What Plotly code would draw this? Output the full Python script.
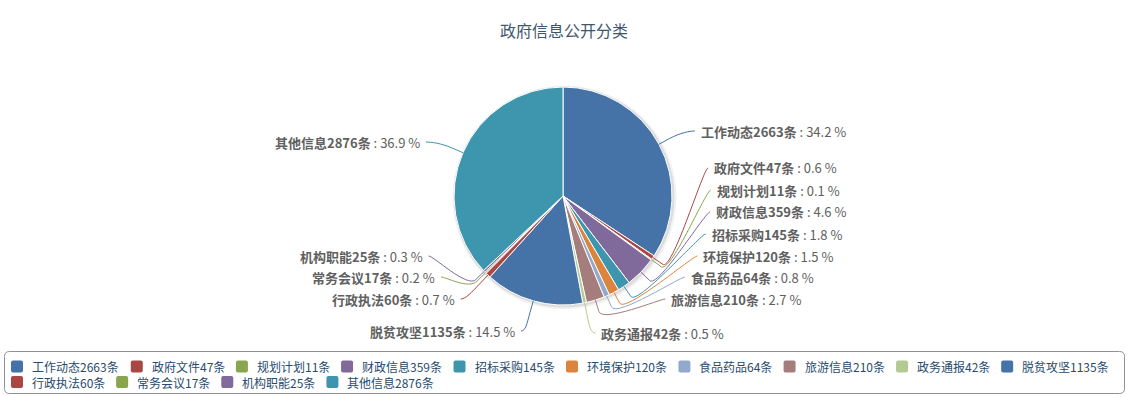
import math
import plotly.graph_objects as go

# ---------------- data ----------------
categories = ["工作动态", "政府文件", "规划计划", "财政信息", "招标采购", "环境保护", "食品药品",
              "旅游信息", "政务通报", "脱贫攻坚", "行政执法", "常务会议", "机构职能", "其他信息"]
counts = [2663, 47, 11, 359, 145, 120, 64, 210, 42, 1135, 60, 17, 25, 2876]
title_text = "政府信息公开分类"

# ---------------- layout / style ----------------
W, H = 1129, 397
CX, CY, R = 563, 196, 109              # pie centre / radius in pixels
LABEL_RING = R + 30                     # Highcharts-like label ring
label_y = [131, 168, 190, 212, 234, 256, 277, 299, 333, 331, 299, 277, 256, 142]
palette = ['#4572A7', '#AA4643', '#89A54E', '#80699B', '#3D96AE',
           '#DB843D', '#92A8CD', '#A47D7C', '#B5CA92']
FONT = "Noto Sans CJK SC"
colors = [palette[i % len(palette)] for i in range(len(counts))]
names = [f"{c}{n}条" for c, n in zip(categories, counts)]
total = sum(counts)
pct = [(c * 1000 // total) / 10 for c in counts]   # truncated to one decimal


def px(x):
    return x / W


def py(y):
    return 1 - y / H


fig = go.Figure()

# soft shadow behind the pie
for extra, dx, dy, alpha in [(3, 1.5, 1.5, 0.05), (1.5, 1, 1, 0.09)]:
    rr = R + extra
    fig.add_trace(go.Pie(
        values=[total], labels=["shadow"], sort=False, textinfo="none",
        hoverinfo="skip", showlegend=False,
        marker=dict(colors=[f"rgba(0,0,0,{alpha})"], line=dict(width=0)),
        domain=dict(x=[px(CX + dx - rr), px(CX + dx + rr)],
                    y=[py(CY + dy + rr), py(CY + dy - rr)]),
    ))

fig.add_trace(go.Pie(
    values=counts, labels=names, sort=False, direction="clockwise", rotation=0,
    textinfo="none", hoverinfo="label+percent", showlegend=False,
    marker=dict(colors=colors, line=dict(color="white", width=1)),
    domain=dict(x=[px(CX - R), px(CX + R)], y=[py(CY + R), py(CY - R)]),
))

shapes = []
annotations = []

# data labels + connectors
cum = 0
for i, c in enumerate(counts):
    mid = (cum + c / 2) / total * 2 * math.pi
    cum += c
    sx, sy = math.sin(mid), -math.cos(mid)
    right = mid < math.pi
    ly = label_y[i]
    h = math.sqrt(max(LABEL_RING ** 2 - (ly - CY) ** 2, 0))
    if right:
        lx = CX + h + 13
        p0, c1 = lx - 4, lx - 9
    else:
        lx = CX - h - 13
        p0, c1 = lx + 4, lx + 9
    ex, ey = CX + R * sx, CY + R * sy
    bx, by = CX + (R + 12) * sx, CY + (R + 12) * sy
    c2x, c2y = 2 * bx - ex, 2 * by - ey
    path = (f"M {px(p0)},{py(ly)} C {px(c1)},{py(ly)} {px(c2x)},{py(c2y)} "
            f"{px(bx)},{py(by)} L {px(ex)},{py(ey)}")
    shapes.append(dict(type="path", xref="paper", yref="paper", path=path,
                       line=dict(color=colors[i], width=1), layer="above"))
    annotations.append(dict(
        x=px(lx), y=py(ly), xref="paper", yref="paper", showarrow=False,
        xanchor="left" if right else "right", yanchor="middle",
        text=f"<b>{names[i]}</b> : {pct[i]:.1f} %",
        font=dict(family=FONT, size=13, color="#606060"),
    ))

# legend (Highcharts style, drawn manually)
LEG_L, LEG_R, LEG_T, LEG_B, RAD = 4.5, 1124.5, 351.5, 393.5, 5
shapes.append(dict(
    type="path", xref="paper", yref="paper",
    path=(f"M {px(LEG_L + RAD)},{py(LEG_T)} L {px(LEG_R - RAD)},{py(LEG_T)} "
          f"Q {px(LEG_R)},{py(LEG_T)} {px(LEG_R)},{py(LEG_T + RAD)} "
          f"L {px(LEG_R)},{py(LEG_B - RAD)} Q {px(LEG_R)},{py(LEG_B)} {px(LEG_R - RAD)},{py(LEG_B)} "
          f"L {px(LEG_L + RAD)},{py(LEG_B)} Q {px(LEG_L)},{py(LEG_B)} {px(LEG_L)},{py(LEG_B - RAD)} "
          f"L {px(LEG_L)},{py(LEG_T + RAD)} Q {px(LEG_L)},{py(LEG_T)} {px(LEG_L + RAD)},{py(LEG_T)} Z"),
    line=dict(color="#909090", width=1), fillcolor="rgba(0,0,0,0)"))


def est_width(s, size=12):
    return sum(size if ord(ch) > 0x2E80 else size * 0.61 for ch in s)


rows_y = [366.5, 382]
row = 0
x = 11
for i, nm in enumerate(names):
    w = est_width(nm)
    if x + 20 + w > 1120:
        row += 1
        x = 11
    yc = rows_y[row]
    s = 6
    r2 = 2
    x0, x1, y0, y1 = x, x + 12, yc - s, yc + s
    shapes.append(dict(
        type="path", xref="paper", yref="paper",
        path=(f"M {px(x0 + r2)},{py(y0)} L {px(x1 - r2)},{py(y0)} Q {px(x1)},{py(y0)} {px(x1)},{py(y0 + r2)} "
              f"L {px(x1)},{py(y1 - r2)} Q {px(x1)},{py(y1)} {px(x1 - r2)},{py(y1)} "
              f"L {px(x0 + r2)},{py(y1)} Q {px(x0)},{py(y1)} {px(x0)},{py(y1 - r2)} "
              f"L {px(x0)},{py(y0 + r2)} Q {px(x0)},{py(y0)} {px(x0 + r2)},{py(y0)} Z"),
        line=dict(width=0), fillcolor=colors[i]))
    annotations.append(dict(
        x=px(x + 19), y=py(yc), xref="paper", yref="paper", showarrow=False,
        xanchor="left", yanchor="middle", text=nm,
        font=dict(family=FONT, size=12, color="#274B6D")))
    x = x + 20 + w + 10.5

# title
annotations.append(dict(
    x=px(564), y=py(30), xref="paper", yref="paper", showarrow=False,
    xanchor="center", yanchor="middle", text=title_text,
    font=dict(family=FONT, size=16, color="#3E576F")))

fig.update_layout(
    width=W, height=H, margin=dict(l=0, r=0, t=0, b=0),
    paper_bgcolor="white", plot_bgcolor="white",
    shapes=shapes, annotations=annotations, showlegend=False,
    font=dict(family=FONT),
)

fig.write_html("out.html", config={"displayModeBar": False},
               post_script="document.body.style.margin='0';document.body.style.overflow='hidden';")
